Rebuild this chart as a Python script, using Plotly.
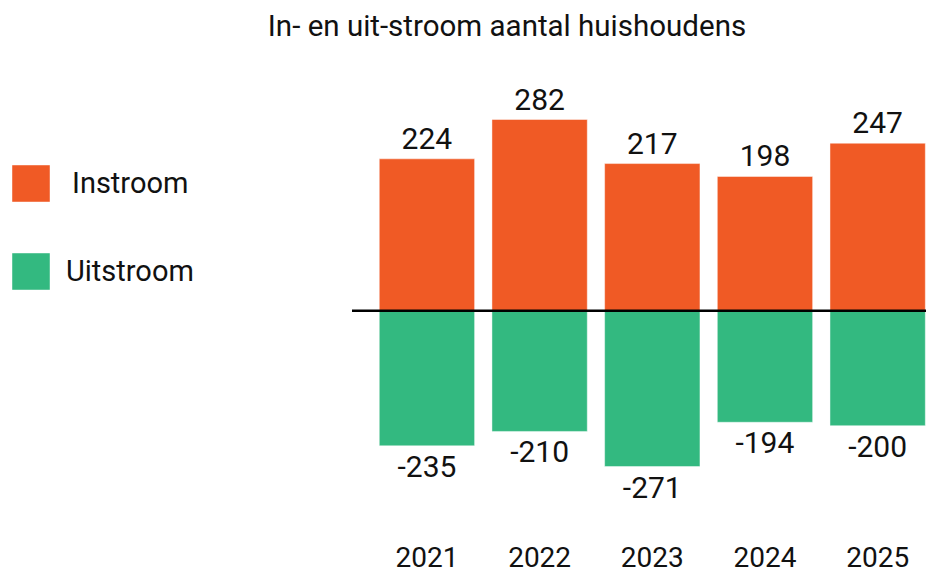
import plotly.graph_objects as go

years = ["2021", "2022", "2023", "2024", "2025"]
instroom = [224, 282, 217, 198, 247]
uitstroom = [-235, -210, -271, -194, -200]
series_names = ["Instroom", "Uitstroom"]
title_text = "In- en uit-stroom aantal huishoudens"

ORANGE = "#F05A25"
GREEN = "#33B980"
TXT = "#111111"
FONT = "Roboto, Arial, sans-serif"

# The page body has an 8px margin, so the figure is drawn 8px in from the
# window's corner; work in window pixels and convert.
OFF = 8
PAGE_W, PAGE_H = 934, 573
W, H = PAGE_W - OFF, PAGE_H - OFF

plot_left, plot_right = 352, 934      # window pixels
plot_top, plot_bottom = 60, 530
L = plot_left - OFF
R = (PAGE_W - plot_right)
T = plot_top - OFF
B = PAGE_H - plot_bottom
plot_h = plot_bottom - plot_top
plot_w = plot_right - plot_left

zero_px = 310.7        # window row of the zero line
s1 = 0.678             # px per unit, instroom axis
s2 = 0.575             # px per unit, uitstroom axis
above = zero_px - plot_top
below = plot_bottom - zero_px
y1_range = [-below / s1, above / s1]
y2_range = [-below / s2, above / s2]


def px(x):
    return (x - plot_left) / plot_w


def py(y):
    return (plot_bottom - y) / plot_h


fig = go.Figure()
fig.add_trace(go.Bar(
    x=years, y=instroom, name=series_names[0], yaxis="y",
    marker=dict(color=ORANGE, line=dict(color="rgba(255,255,255,0.45)", width=1)),
    width=0.846, text=[str(v) for v in instroom], textposition="outside",
    textfont=dict(family=FONT, size=30, color=TXT), cliponaxis=False,
    showlegend=False,
))
fig.add_trace(go.Bar(
    x=years, y=uitstroom, name=series_names[1], yaxis="y2",
    marker=dict(color=GREEN, line=dict(color="rgba(255,255,255,0.45)", width=1)),
    width=0.846, text=[str(v) for v in uitstroom], textposition="outside",
    textfont=dict(family=FONT, size=30, color=TXT), cliponaxis=False,
    showlegend=False,
))

shapes = [
    dict(type="line", xref="paper", yref="y", x0=0, x1=1, y0=0, y1=0,
         line=dict(color="black", width=2.6), layer="above"),
    dict(type="rect", xref="paper", yref="paper", x0=px(12), x1=px(50),
         y0=py(202), y1=py(165), fillcolor=ORANGE,
         line=dict(color="rgba(255,255,255,0.45)", width=1)),
    dict(type="rect", xref="paper", yref="paper", x0=px(12), x1=px(50),
         y0=py(290), y1=py(253), fillcolor=GREEN,
         line=dict(color="rgba(255,255,255,0.45)", width=1)),
]
annotations = [
    dict(xref="paper", yref="paper", x=px(70), y=py(183), xanchor="left",
         yanchor="middle", text=series_names[0], showarrow=False,
         font=dict(family=FONT, size=29, color=TXT)),
    dict(xref="paper", yref="paper", x=px(64), y=py(271), xanchor="left",
         yanchor="middle", text=series_names[1], showarrow=False,
         font=dict(family=FONT, size=29, color=TXT)),
]

fig.update_layout(
    width=W, height=H,
    margin=dict(l=L, r=R, t=T, b=B, pad=0),
    paper_bgcolor="white", plot_bgcolor="white",
    barmode="overlay",
    title=dict(text=title_text, x=(507 - OFF) / W, xref="container",
               xanchor="center", y=1 - (25.5 - OFF) / H, yref="container",
               yanchor="middle",
               font=dict(family=FONT, size=29.5, color=TXT)),
    xaxis=dict(type="category", range=[-0.665, 4.5], showgrid=False,
               zeroline=False, showline=False, ticks="",
               tickfont=dict(family=FONT, size=28, color=TXT),
               ticklabelstandoff=8),
    yaxis=dict(range=y1_range, visible=False, showgrid=False, zeroline=False),
    yaxis2=dict(range=y2_range, visible=False, showgrid=False, zeroline=False,
                overlaying="y"),
    shapes=shapes,
    annotations=annotations,
    font=dict(family=FONT),
)

fig.write_html("out.html")
